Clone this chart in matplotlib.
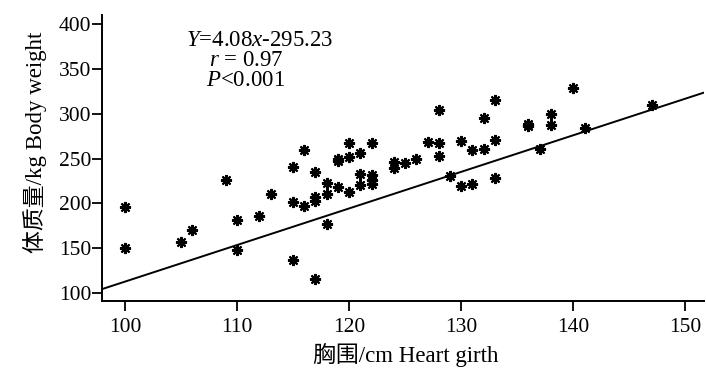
import matplotlib
matplotlib.use("Agg")
import matplotlib.pyplot as plt
import numpy as np

plt.rcParams["font.family"] = ["Liberation Serif", "Noto Sans CJK SC"]
plt.rcParams["mathtext.fontset"] = "custom"
plt.rcParams["mathtext.rm"] = "Liberation Serif"
plt.rcParams["mathtext.it"] = "Liberation Serif:italic"

# heart girth (cm) and body weight (kg) per animal
girth = [100, 100, 105, 106, 109, 110, 110, 112, 113, 115, 115, 115,
         116, 116, 117, 117, 117, 117, 118, 118, 118, 119, 119, 119,
         120, 120, 120, 121, 121, 121, 122, 122, 122, 122, 124, 124,
         125, 126, 127, 128, 128, 128, 129, 130, 130, 131, 131, 132,
         132, 133, 133, 133, 136, 136, 137, 138, 138, 140, 141, 147]
weight = [196, 150, 157, 170, 226, 181, 148, 186, 211, 241, 201, 137,
          259, 197, 235, 207, 203, 116, 223, 211, 177, 250, 247, 218,
          267, 252, 213, 256, 233, 221, 267, 232, 226, 222, 246, 239,
          245, 249, 269, 304, 267, 253, 230, 270, 219, 259, 222, 295,
          261, 315, 271, 228, 289, 286, 261, 300, 287, 329, 284, 310]

slope = 4.08
intercept = -295.23

x_ticks = [100, 110, 120, 130, 140, 150]
y_ticks = [100, 150, 200, 250, 300, 350, 400]

fs_tick = 15.5
fs_label = 16.5

fig = plt.figure(figsize=(7.06, 3.69), dpi=100)
ax = fig.add_axes([0.1445, 0.1843, 0.8527, 0.775])

ax.plot(girth, weight, linestyle="none", marker=(8, 2, 0), markersize=8,
        markeredgewidth=1.5, color="black")

# fitted line across the full x range
xlim = (97.96, 151.66)
xs = np.array(xlim)
ax.plot(xs, slope * xs + intercept, color="black", linewidth=1.4)

ax.set_xlim(*xlim)
ax.set_ylim(91.2, 410)
ax.set_xticks(x_ticks)
ax.set_yticks(y_ticks)

for side in ("top", "right"):
    ax.spines[side].set_visible(False)
for side in ("left", "bottom"):
    ax.spines[side].set_linewidth(1.4)

ax.tick_params(axis="both", direction="out", length=7, width=1.3,
               labelsize=fs_tick, color="black")
ax.tick_params(axis="y", pad=0.5)
ax.tick_params(axis="x", pad=5)

fig.text(35 / 706, 1 - 142 / 369, "体质量/kg Body weight", rotation=90,
         ha="center", va="center", fontsize=fs_label)
fig.text(406 / 706, 1 - 355 / 369, "胸围/cm Heart girth",
         ha="center", va="center", fontsize=fs_label)

fig.text(186 / 706, 1 - 40 / 369, "$Y$=4.08$x$-295.23",
         ha="left", va="center", fontsize=fs_label)
fig.text(209 / 706, 1 - 61 / 369, "$r$ = 0.97",
         ha="left", va="center", fontsize=fs_label)
fig.text(206 / 706, 1 - 80 / 369, "$P$<0.001",
         ha="left", va="center", fontsize=fs_label)

fig.savefig("out.png", dpi=100)
